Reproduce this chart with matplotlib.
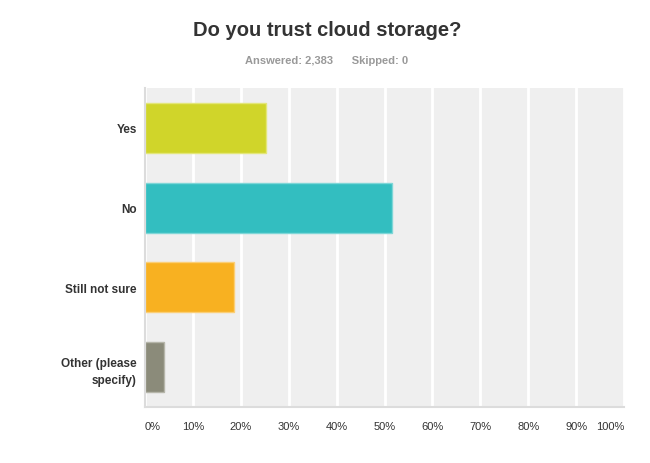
import matplotlib
matplotlib.use("Agg")
import matplotlib.pyplot as plt

plt.rcParams['font.family'] = ['Liberation Sans', 'DejaVu Sans']

categories = ["Yes", "No", "Still not sure", "Other (please\nspecify)"]
values = [25.3, 51.6, 18.5, 4.0]
colors = ["#d0d52a", "#33bec0", "#f8b121", "#8b8b7a"]
edge_colors = ["#e3e67a", "#7fd6d7", "#fbcf77", "#b6b6aa"]
xticks = [0, 10, 20, 30, 40, 50, 60, 70, 80, 90, 100]
xtick_labels = [f"{t}%" for t in xticks]

fig = plt.figure(figsize=(6.5, 4.64), dpi=100)
ax = fig.add_axes([145/650, 56/464, 479/650, 319/464])
ax.set_facecolor("#efefef")

ypos = list(range(len(categories)))
ax.barh(ypos, values, height=0.625, color=colors, edgecolor=edge_colors,
        linewidth=1, zorder=3)
ax.set_ylim(len(categories) - 0.5, -0.5)
ax.set_xlim(0, 100)

ax.set_xticks(xticks)
ax.set_xticklabels(xtick_labels, fontsize=8, color="#333333")
labs = ax.get_xticklabels()
labs[0].set_horizontalalignment("left")
labs[-1].set_horizontalalignment("right")
ax.tick_params(axis="x", length=0, pad=10)
ax.grid(axis="x", color="white", linewidth=2, zorder=1)

ax.set_yticks(ypos)
ax.set_yticklabels(categories, fontsize=8.5, fontweight="bold", color="#333333",
                   multialignment="right", linespacing=1.6)
ax.tick_params(axis="y", length=0, pad=6)

for s in ["top", "right"]:
    ax.spines[s].set_visible(False)
for s in ["left", "bottom"]:
    ax.spines[s].set_color("#dcdcdc")
    ax.spines[s].set_linewidth(1.5)
    ax.spines[s].set_zorder(4)

fig.text(327/650, 1 - 30/464, "Do you trust cloud storage?", ha="center", va="center",
         fontsize=14.5, fontweight="bold", color="#333333")
fig.text(327/650, 1 - 61/464, "Answered: 2,383      Skipped: 0", ha="center", va="center",
         fontsize=8, fontweight="bold", color="#999999")

fig.savefig("out.png", dpi=100)
